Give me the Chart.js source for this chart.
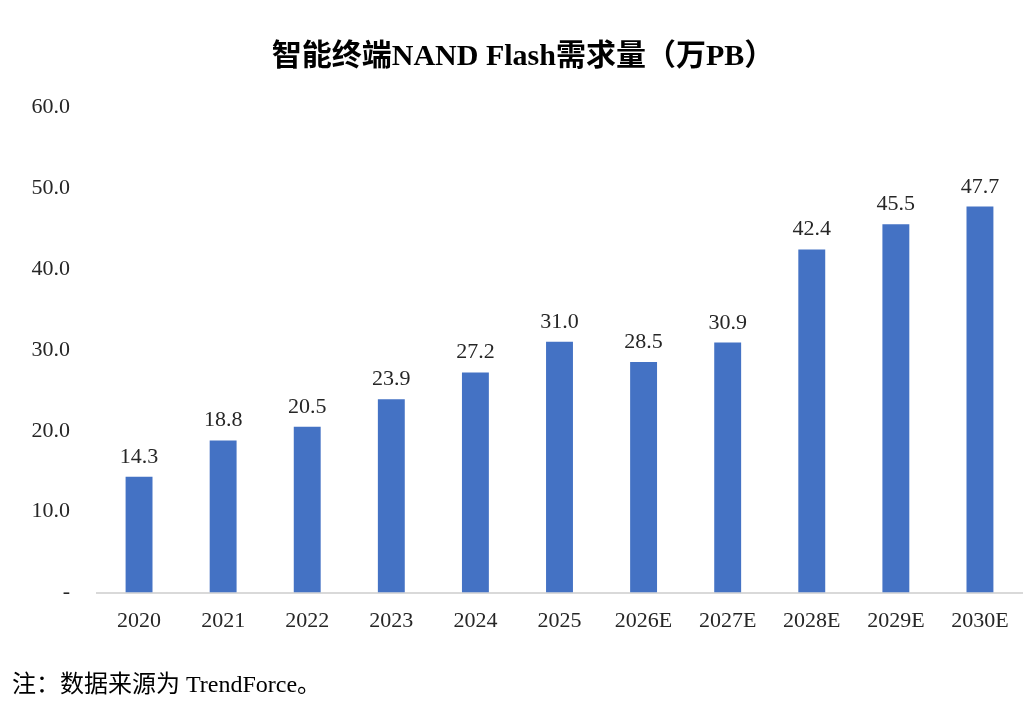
<!DOCTYPE html>
<html>
<head>
<meta charset="utf-8">
<script src="https://cdn.jsdelivr.net/npm/chart.js@4/dist/chart.umd.min.js"></script>
<style>
  body { margin: 0; background: #fff; }
  #wrap { position: relative; width: 1030px; height: 706px; }
  #note {
    position: absolute; left: 12px; top: 664px;
    font: 24px "Liberation Serif", "Noto Sans CJK SC", serif; color: #000;
  }
</style>
</head>
<body>
<div id="wrap">
  <canvas id="chart1" width="1030" height="706"></canvas>
  <div id="note">注：数据来源为 TrendForce。</div>
</div>
<script>
"use strict";
var years = ["2020", "2021", "2022", "2023", "2024", "2025", "2026E", "2027E", "2028E", "2029E", "2030E"];
var demand = [14.3, 18.8, 20.5, 23.9, 27.2, 31.0, 28.5, 30.9, 42.4, 45.5, 47.7];
var yTicks = [0, 10, 20, 30, 40, 50, 60];

var serif = '"Liberation Serif", "Noto Sans CJK SC", serif';

// values above each bar
var barLabels = {
  id: "barLabels",
  afterDatasetsDraw: function(chart) {
    var ctx = chart.ctx;
    var meta = chart.getDatasetMeta(0);
    ctx.save();
    ctx.font = "22px " + serif;
    ctx.fillStyle = "#262626";
    ctx.textAlign = "center";
    ctx.textBaseline = "alphabetic";
    meta.data.forEach(function(bar, i) {
      ctx.fillText(demand[i].toFixed(1), bar.x, bar.y - 14);
    });
    ctx.restore();
  }
};

var ctx = document.getElementById("chart1");
new Chart(ctx, {
  type: "bar",
  data: {
    labels: years,
    datasets: [{
      data: demand,
      backgroundColor: "#4472C4",
      categoryPercentage: 1,
      barPercentage: 0.32
    }]
  },
  options: {
    responsive: false,
    animation: false,
    layout: { padding: { left: 24, right: 8, top: 0, bottom: 65 } },
    plugins: {
      legend: { display: false },
      tooltip: { enabled: false },
      title: {
        display: true,
        text: "智能终端NAND Flash需求量（万PB）",
        color: "#000",
        font: { family: serif, size: 30, weight: "bold" },
        padding: { top: 39, bottom: 32 }
      }
    },
    scales: {
      x: {
        grid: { display: false },
        border: { display: true, color: "#d9d9d9", width: 2 },
        ticks: { color: "#262626", padding: 7, font: { family: serif, size: 22 } }
      },
      y: {
        min: 0,
        max: 60,
        afterBuildTicks: function(scale) {
          scale.ticks = yTicks.map(function(v) { return { value: v }; });
        },
        afterFit: function(scale) {
          scale.width = 73;
        },
        grid: { display: false },
        border: { display: false },
        ticks: {
          color: "#262626",
          padding: 19,
          font: { family: serif, size: 22 },
          callback: function(v) { return v === 0 ? "-" : v.toFixed(1); }
        }
      }
    }
  },
  plugins: [barLabels]
});
</script>
</body>
</html>
